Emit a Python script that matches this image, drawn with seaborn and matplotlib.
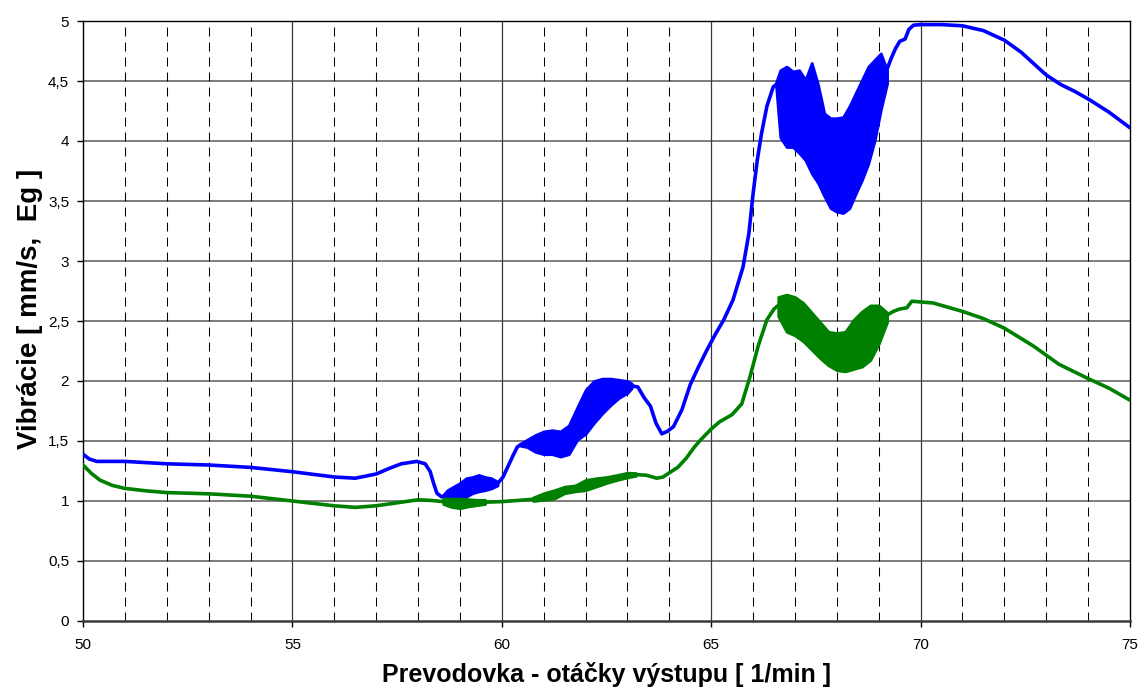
import numpy as np
import pandas as pd
import matplotlib
matplotlib.use("Agg")
import matplotlib.pyplot as plt
import seaborn as sns
from matplotlib.ticker import MultipleLocator, FuncFormatter

# ---------------- data: vibration vs. output speed ----------------
# mm/s series (blue): smooth segments
blue_x1 = [50, 50.15, 50.33, 51, 52, 53, 54, 55, 56, 56.5, 57, 57.3, 57.6, 57.97, 58.17, 58.29, 58.37, 58.45, 58.56, 58.62]
blue_y1 = [1.39, 1.35, 1.33, 1.33, 1.31, 1.30, 1.28, 1.244, 1.20, 1.19, 1.225, 1.27, 1.31, 1.33, 1.31, 1.245, 1.15, 1.065, 1.035, 1.04]
blue_x2 = [59.9, 60.03, 60.15, 60.27, 60.37, 60.45]
blue_y2 = [1.145, 1.20, 1.29, 1.38, 1.45, 1.47]
blue_x3 = [63.1, 63.25, 63.4, 63.55, 63.68, 63.82, 63.95, 64.1, 64.3, 64.5, 64.7, 64.9, 65.1, 65.3,
           65.52, 65.76, 65.9, 66.0, 66.1, 66.2, 66.33, 66.48, 66.55]
blue_y3 = [1.96, 1.95, 1.86, 1.79, 1.65, 1.56, 1.58, 1.62, 1.76, 1.97, 2.12, 2.26, 2.39, 2.51,
           2.675, 2.95, 3.23, 3.56, 3.84, 4.06, 4.29, 4.45, 4.47]
blue_x4 = [69.2, 69.3, 69.4, 69.5, 69.63, 69.72, 69.83, 70.0, 70.5, 71.0, 71.5, 72.0, 72.4, 73.0,
           73.35, 73.7, 74.05, 74.5, 75.0]
blue_y4 = [4.60, 4.69, 4.77, 4.83, 4.85, 4.93, 4.965, 4.97, 4.97, 4.96, 4.92, 4.84, 4.74, 4.55,
           4.47, 4.41, 4.34, 4.24, 4.11]

# mm/s series (blue): oscillating bands, lower / upper envelopes
blue_bx1 = [58.6, 58.7, 58.85, 59.0, 59.15, 59.3, 59.45, 59.6, 59.75, 59.9]
blue_lo1 = [1.035, 0.995, 0.995, 1.01, 1.035, 1.065, 1.08, 1.09, 1.105, 1.13]
blue_hi1 = [1.05, 1.09, 1.12, 1.15, 1.19, 1.20, 1.217, 1.20, 1.19, 1.16]
blue_bx2 = [60.45, 60.6, 60.8, 61.0, 61.2, 61.4, 61.6, 61.8, 62.0, 62.2, 62.4, 62.6, 62.8, 63.0, 63.1]
blue_lo2 = [1.46, 1.45, 1.41, 1.39, 1.39, 1.37, 1.39, 1.51, 1.56, 1.65, 1.73, 1.80, 1.86, 1.90, 1.94]
blue_hi2 = [1.48, 1.51, 1.55, 1.58, 1.59, 1.58, 1.63, 1.78, 1.925, 2.0, 2.02, 2.02, 2.01, 2.0, 1.98]
blue_bx3 = [66.55, 66.65, 66.8, 66.95, 67.1, 67.25, 67.4, 67.55, 67.7, 67.85, 68.0, 68.15, 68.3,
            68.45, 68.6, 68.75, 68.9, 69.05, 69.2]
blue_lo3 = [4.45, 4.03, 3.95, 3.95, 3.90, 3.84, 3.73, 3.65, 3.54, 3.44, 3.41, 3.40, 3.44,
            3.56, 3.675, 3.81, 4.0, 4.26, 4.48]
blue_hi3 = [4.49, 4.59, 4.62, 4.58, 4.59, 4.51, 4.65, 4.47, 4.23, 4.19, 4.19, 4.20, 4.29,
            4.40, 4.51, 4.62, 4.675, 4.73, 4.59]

# Eg series (green): smooth segments
green_x1 = [50, 50.2, 50.4, 50.7, 51, 51.5, 52, 53, 54, 55, 56, 56.5, 57, 57.5, 58.0, 58.3, 58.6]
green_y1 = [1.30, 1.23, 1.175, 1.13, 1.105, 1.085, 1.07, 1.06, 1.04, 1.0, 0.96, 0.947, 0.96, 0.985, 1.01, 1.005, 0.995]
green_x2 = [59.6, 60.0, 60.4, 60.75]
green_y2 = [0.99, 0.995, 1.005, 1.015]
green_x3 = [63.2, 63.45, 63.7, 63.85, 64.0, 64.2, 64.4, 64.6, 64.75, 65.0, 65.2, 65.5, 65.73,
            65.93, 66.12, 66.33, 66.5, 66.6]
green_y3 = [1.22, 1.215, 1.19, 1.20, 1.235, 1.28, 1.355, 1.45, 1.51, 1.60, 1.66, 1.72, 1.81,
            2.04, 2.29, 2.51, 2.60, 2.63]
green_x4 = [69.2, 69.35, 69.5, 69.67, 69.79, 70.3, 71.0, 71.5, 72.0, 72.7, 73.3, 74.0, 74.5, 75.0]
green_y4 = [2.55, 2.58, 2.60, 2.61, 2.665, 2.65, 2.58, 2.52, 2.44, 2.29, 2.14, 2.02, 1.94, 1.84]

# Eg series (green): oscillating bands
green_bx1 = [58.6, 58.8, 59.0, 59.2, 59.4, 59.6]
green_lo1 = [0.975, 0.95, 0.94, 0.955, 0.965, 0.975]
green_hi1 = [1.02, 1.02, 1.02, 1.015, 1.01, 1.01]
green_bx2 = [60.75, 61.0, 61.25, 61.5, 61.75, 62.0, 62.25, 62.5, 62.75, 63.0, 63.2]
green_lo2 = [1.0, 1.01, 1.02, 1.065, 1.08, 1.09, 1.12, 1.15, 1.175, 1.197, 1.21]
green_hi2 = [1.03, 1.065, 1.09, 1.12, 1.13, 1.175, 1.19, 1.20, 1.217, 1.236, 1.233]
green_bx3 = [66.6, 66.8, 67.0, 67.2, 67.4, 67.6, 67.8, 68.0, 68.2, 68.4, 68.6, 68.8, 69.0, 69.2]
green_lo3 = [2.54, 2.41, 2.38, 2.33, 2.26, 2.19, 2.13, 2.09, 2.08, 2.10, 2.12, 2.175, 2.31, 2.49]
green_hi3 = [2.70, 2.72, 2.70, 2.65, 2.57, 2.49, 2.41, 2.40, 2.41, 2.51, 2.58, 2.63, 2.63, 2.57]

x_ticks = [50, 55, 60, 65, 70, 75]
y_ticks = [0, 0.5, 1, 1.5, 2, 2.5, 3, 3.5, 4, 4.5, 5]

BLUE = "#0000FF"
GREEN = "#008000"

# ---------------- figure ----------------
sns.set_theme(style="white")
plt.rcParams["font.family"] = ["Liberation Sans", "DejaVu Sans"]

fig = plt.figure(figsize=(11.41, 6.94), dpi=100)
ax = fig.add_axes([83 / 1141, 73 / 694, 1047 / 1141, 600 / 694])


def segments_frame(name, pairs):
    rows = []
    for i, (xs, ys) in enumerate(pairs):
        rows.append(pd.DataFrame({"rpm": xs, "vib": ys, "series": name, "seg": f"{name}{i}"}))
    return pd.concat(rows, ignore_index=True)


blue_df = segments_frame("mm/s", [(blue_x1, blue_y1), (blue_x2, blue_y2), (blue_x3, blue_y3), (blue_x4, blue_y4)])
green_df = segments_frame("Eg", [(green_x1, green_y1), (green_x2, green_y2), (green_x3, green_y3), (green_x4, green_y4)])

LW = 2.6

# blue first, green drawn on top of it
sns.lineplot(data=blue_df, x="rpm", y="vib", units="seg", estimator=None, sort=False,
             color=BLUE, linewidth=LW, ax=ax, zorder=3, legend=False)
for bx, lo, hi in [(blue_bx1, blue_lo1, blue_hi1), (blue_bx2, blue_lo2, blue_hi2), (blue_bx3, blue_lo3, blue_hi3)]:
    ax.fill_between(bx, lo, hi, color=BLUE, linewidth=2.0, edgecolor=BLUE, zorder=3)

sns.lineplot(data=green_df, x="rpm", y="vib", units="seg", estimator=None, sort=False,
             color=GREEN, linewidth=LW, ax=ax, zorder=4, legend=False)
for bx, lo, hi in [(green_bx1, green_lo1, green_hi1), (green_bx2, green_lo2, green_hi2), (green_bx3, green_lo3, green_hi3)]:
    ax.fill_between(bx, lo, hi, color=GREEN, linewidth=2.0, edgecolor=GREEN, zorder=4)

# ---------------- axes, grid ----------------
ax.set_xlim(50, 75)
ax.set_ylim(0, 5)
ax.set_xticks(x_ticks)
ax.set_yticks(y_ticks)
ax.xaxis.set_minor_locator(MultipleLocator(1))
ax.yaxis.set_major_formatter(FuncFormatter(lambda v, _: f"{v:g}".replace(".", ",")))
ax.xaxis.set_major_formatter(FuncFormatter(lambda v, _: f"{v:g}"))

ax.grid(False)
ax.set_axisbelow(True)
for yv in y_ticks[1:-1]:
    ax.axhline(yv, color="#5a5a5a", linewidth=1.1, zorder=1)
for xv in x_ticks[1:-1]:
    ax.axvline(xv, color="#3a3a3a", linewidth=0.9, zorder=1)
for xv in range(51, 75):
    if xv % 5:
        ax.axvline(xv, color="black", linewidth=0.75, linestyle=(0, (8.6, 5.8)), zorder=1)

for side in ["top", "right", "left"]:
    ax.spines[side].set_color("black")
    ax.spines[side].set_linewidth(1.0)
ax.spines["bottom"].set_color("#3a3a3a")
ax.spines["bottom"].set_linewidth(1.8)

ax.tick_params(axis="both", which="major", direction="out", length=4, width=1,
               color="black", labelsize=11, labelcolor="black", bottom=True, left=True)
ax.tick_params(axis="x", which="major", pad=8)
ax.tick_params(axis="y", which="major", pad=6)
ax.tick_params(axis="x", which="minor", length=0)

ax.set_xlabel("Prevodovka - otáčky výstupu [ 1/min ]", fontsize=18, fontweight="bold", color="black")
ax.set_ylabel("Vibrácie [ mm/s,  Eg ]", fontsize=20, fontweight="bold", color="black")
ax.xaxis.set_label_coords(0.5, -0.068)
ax.yaxis.set_label_coords(-0.038, 0.52)

fig.savefig("out.png", dpi=100)
